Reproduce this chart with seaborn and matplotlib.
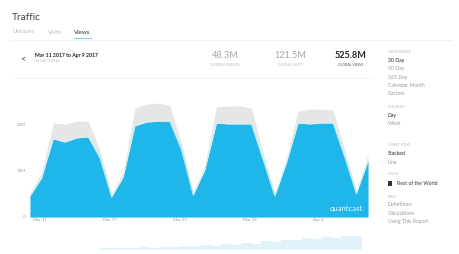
import matplotlib
matplotlib.use("Agg")
import matplotlib.pyplot as plt
import matplotlib.transforms as mtransforms
import seaborn as sns
import numpy as np
import pandas as pd

# ---------------- data ----------------
dates = pd.date_range("2017-03-11", "2017-04-09", freq="D")
us_views = [4.5, 8.4, 16.8, 16.1, 17.0, 17.2, 12.7, 4.3, 8.6, 19.6,
            20.4, 20.6, 20.6, 14.4, 4.7, 10.1, 20.2, 20.0, 20.0, 20.0,
            12.3, 4.5, 11.6, 20.2, 20.0, 20.2, 20.2, 12.9, 5.0, 12.0]
rest_views = [0.7, 1.2, 3.4, 3.9, 3.6, 3.4, 1.7, 0.6, 1.1, 3.8,
              3.9, 3.9, 3.4, 1.5, 0.7, 1.1, 3.5, 3.9, 3.9, 3.4,
              1.5, 0.7, 1.1, 2.6, 3.2, 3.0, 2.8, 1.5, 0.6, 1.5]
x_tick_days = [0, 6, 12, 18, 24]
x_tick_labels = ["Mar 11", "Mar 17", "Mar 23", "Mar 29", "Apr 4"]
y_ticks = [0, 10, 20]
y_tick_labels = ["0", "10M", "20M"]
nav_values = [0.5, 0.4, 0.6, 0.5, 0.7, 0.6, 0.8, 0.7, 1.0, 0.9, 1.2, 1.1, 1.5,
              1.3, 1.8, 1.6, 2.2, 2.0, 2.6, 2.4, 2.9, 2.7, 3.3, 3.0, 3.6, 3.4]
stat_values = ["48.3M", "121.5M", "525.8M"]
stat_labels = ["GLOBAL UNIQUES", "GLOBAL VISITS", "GLOBAL VIEWS"]

df = pd.DataFrame({"day": np.arange(len(dates)), "us": us_views, "rest": rest_views})
df["total"] = df["us"] + df["rest"]

# ---------------- style ----------------
sns.set_theme(style="white")
plt.rcParams["font.family"] = ["Lato", "DejaVu Sans"]

W, H = 460, 254
fig = plt.figure(figsize=(W / 100, H / 100), dpi=100)
fig.patch.set_facecolor("white")

def fx(px):
    return px / W

def fy(py):
    return 1 - py / H

BLUE = "#1fb6ea"
GREY = "#e5e7e7"
DARK = "#2b2b2b"
MID = "#9a9a9a"
LIGHT = "#b9b9b9"

# ---------------- main chart ----------------
y_top_val = 27.0
px_per_m = 4.65
ax = fig.add_axes([fx(30), fy(217), fx(338), (y_top_val * px_per_m) / H])
ax.fill_between(df["day"], 0, df["total"], color=GREY, lw=0)
ax.fill_between(df["day"], 0, df["us"], color=BLUE, lw=0)
sns.lineplot(data=df, x="day", y="us", ax=ax, color="#d6f1fb", lw=0.6, legend=False)
ax.set_xlim(0, len(dates) - 1)
ax.set_ylim(0, y_top_val)
ax.set_xlabel("")
ax.set_ylabel("")
for s in ax.spines.values():
    s.set_visible(False)
ax.set_yticks(y_ticks)
ax.set_yticklabels(y_tick_labels, fontsize=3.2, color=MID)
ax.tick_params(axis="y", length=0, pad=3)
ax.set_xticks(x_tick_days)
ax.set_xticklabels(x_tick_labels, fontsize=3.2, color=MID)
ax.tick_params(axis="x", direction="out", length=7, width=0.5, color="#d0d0d0", pad=-6)
offset = mtransforms.ScaledTranslation(3 / 100, 0, fig.dpi_scale_trans)
for lbl in ax.get_xticklabels():
    lbl.set_horizontalalignment("left")
    lbl.set_transform(lbl.get_transform() + offset)
ax.text(0.985, 0.07, "quantcast", transform=ax.transAxes, ha="right", va="center",
        fontsize=5.6, color="white", alpha=0.9)

# ---------------- navigator ----------------
nav = fig.add_axes([fx(100), fy(250), fx(262), 16 / H])
nav.bar(np.arange(len(nav_values)), nav_values, width=1.0, color="#cdeaf6", alpha=0.6, lw=0)
nav.set_xlim(-0.5, len(nav_values) - 0.5)
nav.set_ylim(0, 4)
nav.axis("off")

# ---------------- header texts ----------------
fig.text(fx(12), fy(17), "Traffic", fontsize=7.2, color="#444444", va="center")
fig.text(fx(13), fy(32), "Uniques", fontsize=4.4, color=LIGHT, va="center")
fig.text(fx(48), fy(32), "Visits", fontsize=4.4, color=LIGHT, va="center")
fig.text(fx(74), fy(32), "Views", fontsize=4.4, color="#333333", va="center")
fig.add_artist(plt.Line2D([fx(74), fx(91)], [fy(37.5), fy(37.5)], color="#8fd0e2", lw=0.8))
fig.add_artist(plt.Line2D([fx(10), fx(452)], [fy(39.5), fy(39.5)], color="#f0f0f0", lw=0.6))
fig.add_artist(plt.Line2D([fx(12), fx(372)], [fy(78), fy(78)], color="#f3f3f3", lw=0.6))

fig.text(fx(20), fy(59.5), "<", fontsize=6.5, color="#444444", va="center")
fig.text(fx(35), fy(55), "Mar 11 2017 to Apr 9 2017", fontsize=3.7, color="#222222",
         va="center", fontweight="bold")
fig.text(fx(35), fy(61.5), "30 DAY TOTAL", fontsize=2.6, color=LIGHT, va="center")

stat_cx = [225, 290.5, 351]
for i, (cx, v, l) in enumerate(zip(stat_cx, stat_values, stat_labels)):
    last = i == len(stat_values) - 1
    fig.text(fx(cx), fy(56), v, fontsize=6.6, ha="center", va="center",
             color="#222222" if last else "#a5a5a5",
             fontweight="bold" if last else "normal")
    fig.text(fx(cx), fy(64.5), l, fontsize=2.5, ha="center", va="center",
             color="#555555" if last else LIGHT)

# ---------------- right panel ----------------
panel = [
    ("DATE RANGE", 52.3, "head"), ("30 Day", 60.5, "on"), ("90 Day", 68.8, "off"),
    ("365 Day", 77, "off"), ("Calendar Month", 85.3, "off"), ("Custom", 93.5, "off"),
    ("SHOW BY", 107, "head"), ("Day", 115.3, "on"), ("Week", 123.5, "off"),
    ("CHART VIEW", 145, "head"), ("Stacked", 153.7, "on"), ("Line", 162, "off"),
    ("SHOW", 174.3, "head"),
    ("HELP", 196.7, "head"), ("Definitions", 205, "off"), ("Calculations", 213.3, "off"),
    ("Using This Report", 221.7, "off"),
]
for txt, y, kind in panel:
    if kind == "head":
        fig.text(fx(388), fy(y), txt, fontsize=2.6, color=LIGHT, va="center")
    elif kind == "on":
        fig.text(fx(388), fy(y), txt, fontsize=3.7, color="#222222", va="center")
    else:
        fig.text(fx(388), fy(y), txt, fontsize=3.7, color=MID, va="center")
fig.add_artist(plt.Rectangle((fx(388), fy(185.5)), fx(4.5), 4.5 / H, color="#333333", lw=0))
fig.text(fx(397), fy(183.3), "Rest of the World", fontsize=3.7, color="#333333", va="center")

fig.savefig("out.png", dpi=100, facecolor="white")
